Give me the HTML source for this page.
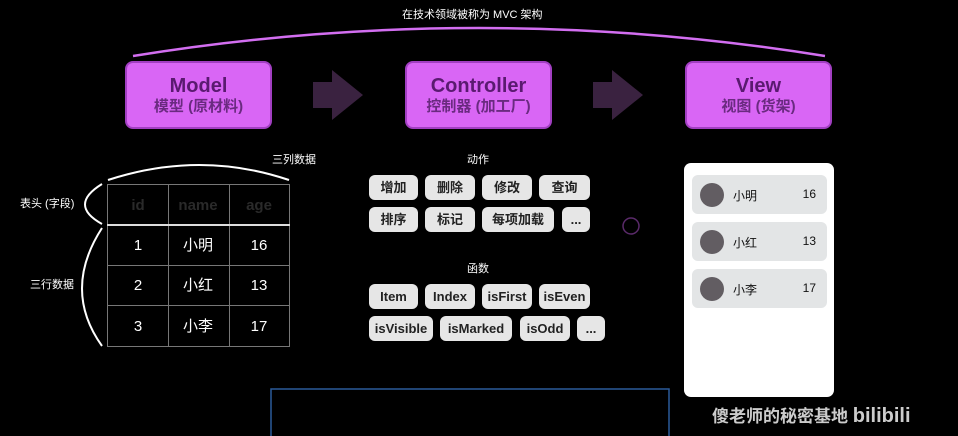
<!DOCTYPE html>
<html><head><meta charset="utf-8"><style>
body{margin:0;width:958px;height:436px;background:#000;overflow:hidden;position:relative;font-family:"Liberation Sans","Noto Sans CJK SC",sans-serif;}
.a{position:absolute}
.box{position:absolute;top:61px;width:143px;height:64px;background:#d966f5;border:2px solid #a23fc2;border-radius:8px;text-align:center;color:#5a1a70}
.box b{display:block;font-size:20px;margin-top:12px;line-height:22px}
.box span{display:block;font-size:15px;font-weight:bold;line-height:20px;color:#6a2a80}
.p{position:absolute;height:25px;background:#e6e6e6;border-radius:6px;color:#222;font-size:13px;font-weight:bold;text-align:center;line-height:25px}
.t{position:absolute;color:#fff;font-size:11px}
.it{position:absolute;left:692px;width:135px;height:39px;background:#e3e5e6;border-radius:6px;font-size:12px;color:#111}
.it i{position:absolute;left:8px;top:8px;width:24px;height:24px;border-radius:50%;background:#625d62}
.it span{position:absolute;left:41px;top:12px}
.it em{position:absolute;right:11px;top:12px;font-style:normal}
</style></head><body>
<svg class="a" style="left:0;top:0" width="958" height="436">
<path d="M133 56 Q479 0 825 56" stroke="#d26ef0" stroke-width="2.5" fill="none"/>
<polygon points="313,82 332,82 332,70 363,95 332,120 332,108 313,108" fill="#3a2240"/>
<polygon points="593,82 612,82 612,70 643,95 612,120 612,108 593,108" fill="#3a2240"/>
<path d="M108 180 Q200 150 289 180" stroke="#fff" stroke-width="2" fill="none"/>
<path d="M102 184 Q68 205 102 224" stroke="#fff" stroke-width="2" fill="none"/>
<path d="M102 228 Q62 290 102 346" stroke="#fff" stroke-width="2" fill="none"/>
<g stroke="#777" stroke-width="1" fill="none">
<rect x="107.5" y="184.5" width="182" height="162"/>
<line x1="168.5" y1="184" x2="168.5" y2="346"/><line x1="229.5" y1="184" x2="229.5" y2="346"/>
<line x1="107" y1="265.5" x2="290" y2="265.5"/><line x1="107" y1="305.5" x2="290" y2="305.5"/>
</g>
<line x1="107" y1="225" x2="290" y2="225" stroke="#ddd" stroke-width="2"/>
<circle cx="631" cy="226" r="8" stroke="#5a2a6a" stroke-width="1.5" fill="none"/>
<rect x="271" y="389" width="398" height="60" stroke="#2a5a9a" stroke-width="1.5" fill="none"/>
<g font-size="15" text-anchor="middle" font-family="Liberation Sans,Noto Sans CJK SC,sans-serif">
<g fill="#2a2a2a" font-weight="bold"><text x="138" y="210">id</text><text x="198" y="210">name</text><text x="259" y="210">age</text></g>
<g fill="#fff"><text x="138" y="250">1</text><text x="198" y="250">小明</text><text x="259" y="250">16</text>
<text x="138" y="290">2</text><text x="198" y="290">小红</text><text x="259" y="290">13</text>
<text x="138" y="331">3</text><text x="198" y="331">小李</text><text x="259" y="331">17</text></g></g>
</svg>
<div class="t" style="left:402px;top:6px">在技术领域被称为 MVC 架构</div>
<div class="box" style="left:125px"><b>Model</b><span>模型 (原材料)</span></div>
<div class="box" style="left:405px"><b>Controller</b><span>控制器 (加工厂)</span></div>
<div class="box" style="left:685px"><b>View</b><span>视图 (货架)</span></div>
<div class="t" style="left:272px;top:151px">三列数据</div>
<div class="t" style="left:20px;top:195px">表头 (字段)</div>
<div class="t" style="left:30px;top:276px">三行数据</div>
<div class="t" style="left:467px;top:151px">动作</div>
<div class="t" style="left:467px;top:260px">函数</div>
<div class="p" style="left:369px;top:175px;width:49px">增加</div>
<div class="p" style="left:425px;top:175px;width:50px">删除</div>
<div class="p" style="left:482px;top:175px;width:50px">修改</div>
<div class="p" style="left:539px;top:175px;width:51px">查询</div>
<div class="p" style="left:369px;top:207px;width:49px">排序</div>
<div class="p" style="left:425px;top:207px;width:50px">标记</div>
<div class="p" style="left:482px;top:207px;width:72px">每项加载</div>
<div class="p" style="left:562px;top:207px;width:28px">...</div>
<div class="p" style="left:369px;top:284px;width:49px">Item</div>
<div class="p" style="left:425px;top:284px;width:50px">Index</div>
<div class="p" style="left:482px;top:284px;width:50px">isFirst</div>
<div class="p" style="left:539px;top:284px;width:51px">isEven</div>
<div class="p" style="left:369px;top:316px;width:64px">isVisible</div>
<div class="p" style="left:440px;top:316px;width:72px">isMarked</div>
<div class="p" style="left:520px;top:316px;width:50px">isOdd</div>
<div class="p" style="left:577px;top:316px;width:28px">...</div>
<div class="a" style="left:684px;top:163px;width:150px;height:234px;background:#fff;border-radius:7px"></div>
<div class="it" style="top:175px"><i></i><span>小明</span><em>16</em></div>
<div class="it" style="top:222px"><i></i><span>小红</span><em>13</em></div>
<div class="it" style="top:269px"><i></i><span>小李</span><em>17</em></div>
<div class="a" style="left:712px;top:402px;color:#ccc;font-size:17px;font-weight:bold">傻老师的秘密基地 <span style="font-size:20px;">bilibili</span></div>
</body></html>
